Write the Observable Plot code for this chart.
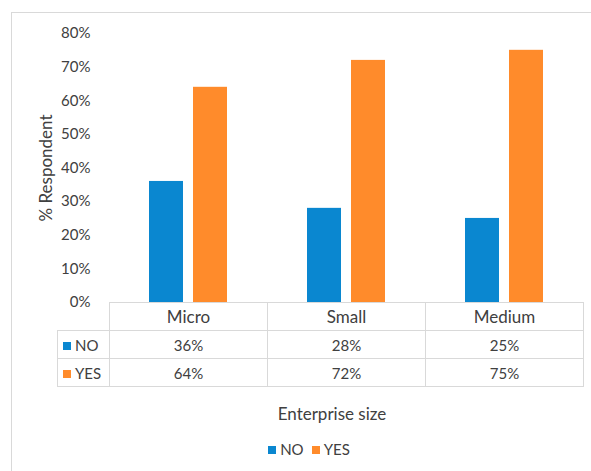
<!DOCTYPE html>
<html>
<head>
<meta charset="utf-8">
<script src="https://cdn.jsdelivr.net/npm/d3@7"></script>
<script src="https://cdn.jsdelivr.net/npm/@observablehq/plot@0.6"></script>
<style>
  body { margin: 0; background: #fff; overflow: hidden; }
  #wrap { position: relative; width: 591px; height: 471px; font-family: Lato, sans-serif; color: #404040; }
  .box { position: absolute; left: 11px; top: 12px; width: 700px; height: 600px; border: 1px solid #d9d9d9; }
  #chart { position: absolute; left: 0; top: 0; }
  table { position: absolute; border-collapse: collapse; table-layout: fixed; font-size: 15px; }
  td { border: 1px solid #d9d9d9; height: 27px; padding: 0; text-align: center; white-space: nowrap; }
  tr.head td { font-size: 17px; }
  td.blank { border-top: none; border-left: none; }
  td.key { text-align: left; padding-left: 5px; }
  .sw { display: inline-block; width: 8px; height: 8px; margin-right: 4px; vertical-align: 1px; }
  .xlabel { position: absolute; top: 403px; left: 0; width: 664px; text-align: center; font-size: 17px; }
  .legend { position: absolute; top: 440px; left: 0; width: 618px; text-align: center; font-size: 15px; }
  .legend span.item { margin: 0 4px; }
</style>
</head>
<body>
<div id="wrap">
  <div class="box"></div>
  <div id="chart"></div>
</div>
<script>
// Share of respondents answering NO / YES, by enterprise size
const sizes = ["Micro", "Small", "Medium"];
const answers = ["NO", "YES"];
const noValues = [36, 28, 25];
const yesValues = [64, 72, 75];
const yTicks = [0, 10, 20, 30, 40, 50, 60, 70, 80];
const colors = ["#0a87d0", "#ff8b2b"];

const rows = sizes.flatMap((size, i) => [
  {size, answer: "NO", value: noValues[i]},
  {size, answer: "YES", value: yesValues[i]}
]);

const chart = Plot.plot({
  width: 591,
  height: 471,
  marginLeft: 108,
  marginRight: 8,
  marginTop: 33,
  marginBottom: 169,
  style: {fontFamily: "Lato, sans-serif", fontSize: "15px", color: "#404040", background: "transparent"},
  facet: {data: rows, x: "size"},
  fx: {domain: sizes, padding: 0, axis: null},
  x: {domain: answers, paddingInner: 0.222, paddingOuter: 0.872, axis: null},
  y: {
    domain: [0, 80],
    ticks: yTicks,
    tickFormat: d => d + "%",
    tickSize: 0,
    tickPadding: 19,
    label: "% Respondent",
    labelArrow: false,
    labelAnchor: "center",
    labelOffset: 70
  },
  color: {domain: answers, range: colors},
  marks: [
    Plot.barY(rows, {x: "answer", y: "value", fill: "answer"})
  ]
});
// y-axis title: plain text, slightly larger than the tick labels
chart.querySelectorAll("text").forEach(t => {
  if (t.textContent.includes("Respondent")) {
    t.textContent = "% Respondent";
    t.style.fontSize = "17px";
  }
});
document.getElementById("chart").appendChild(chart);

// Data table under the bars, aligned with the category bands
const fx = chart.scale("fx");
const bw = fx.bandwidth;
const x0 = fx.apply(sizes[0]);
const keyWidth = 52;
const table = document.createElement("table");
table.style.left = (x0 - keyWidth) + "px";
table.style.top = "302px";
table.style.width = (keyWidth + bw * sizes.length) + "px";
const colgroup = document.createElement("colgroup");
[keyWidth, ...sizes.map(() => bw)].forEach(w => {
  const c = document.createElement("col");
  c.style.width = w + "px";
  colgroup.appendChild(c);
});
table.appendChild(colgroup);

const head = table.insertRow();
head.className = "head";
const blank = head.insertCell();
blank.className = "blank";
sizes.forEach(s => { head.insertCell().textContent = s; });

[[answers[0], noValues, colors[0]], [answers[1], yesValues, colors[1]]].forEach(([name, vals, col]) => {
  const tr = table.insertRow();
  const key = tr.insertCell();
  key.className = "key";
  key.innerHTML = `<span class="sw" style="background:${col}"></span>${name}`;
  vals.forEach(v => { tr.insertCell().textContent = v + "%"; });
});
document.getElementById("wrap").appendChild(table);

// Axis title and legend below the table
const xl = document.createElement("div");
xl.className = "xlabel";
xl.textContent = "Enterprise size";
document.getElementById("wrap").appendChild(xl);

const legend = document.createElement("div");
legend.className = "legend";
legend.innerHTML = answers.map((a, i) =>
  `<span class="item"><span class="sw" style="background:${colors[i]}"></span>${a}</span>`).join("");
document.getElementById("wrap").appendChild(legend);
</script>
</body>
</html>
